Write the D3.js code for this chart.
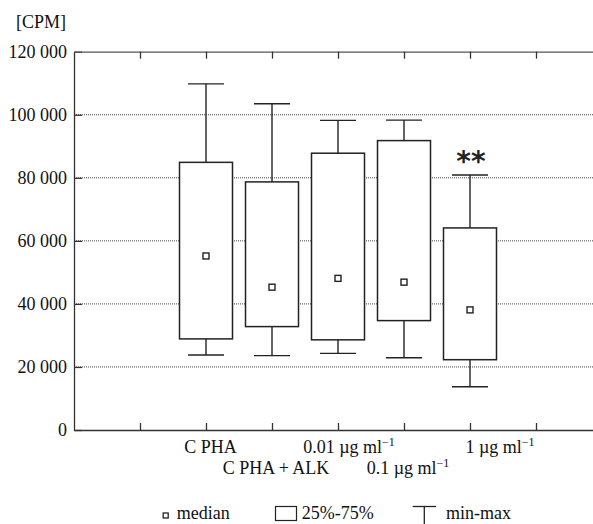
<!DOCTYPE html>
<html>
<head>
<meta charset="utf-8">
<script src="https://cdn.jsdelivr.net/npm/d3@7"></script>
<style>
  body { margin: 0; background: #fff; }
  svg { display: block; font-family: "Liberation Serif", "Times New Roman", serif; }
</style>
</head>
<body>
<svg width="593" height="524"></svg>
<script>
// groups, in order along the x axis
const labels = ["C PHA", "C PHA + ALK", "0.01 \u00b5g ml", "0.1 \u00b5g ml", "1 \u00b5g ml"];
const labelSup = ["", "", "\u22121", "\u22121", "\u22121"];

// box plot values [CPM]
const mins    = [23800, 23600, 24300, 22900, 13700];
const q1      = [28900, 32800, 28600, 34700, 22300];
const medians = [55200, 45300, 48100, 46900, 38100];
const q3      = [84900, 78700, 87800, 91800, 64100];
const maxs    = [109800, 103500, 98200, 98300, 80900];

const yTicks = [0, 20000, 40000, 60000, 80000, 100000, 120000];
const gridTicks = [20000, 40000, 60000, 80000, 100000];
const xTickSlots = [1, 2, 3, 4, 5, 6, 7];

const svg = d3.select("svg");
const plotL = 74, plotR = 602, plotT = 51.7, plotB = 430;

// slot 0 is the y axis, boxes sit in slots 2..6
const x = d3.scaleLinear().domain([0, 8]).range([plotL, plotR]);
const y = d3.scaleLinear().domain([0, 120000]).range([plotB, plotT]);
const slot = i => x(i + 2);

const ink = "#222";
const fmt = d => d3.format(",")(d).replace(/,/g, " ");

// dotted grid
svg.append("g").selectAll("line")
  .data(gridTicks)
  .join("line")
    .attr("x1", plotL).attr("x2", plotR)
    .attr("y1", d => y(d)).attr("y2", d => y(d))
    .attr("stroke", "#444")
    .attr("stroke-width", 1)
    .attr("stroke-dasharray", "1,1");

// axes, ticks pointing inwards
const yAxis = svg.append("g")
  .attr("transform", `translate(${plotL},0)`)
  .call(d3.axisLeft(y).tickValues(yTicks).tickFormat(fmt)
    .tickSizeInner(-8).tickSizeOuter(0).tickPadding(7));

const bAxis = svg.append("g")
  .attr("transform", `translate(0,${plotB})`)
  .call(d3.axisBottom(x).tickValues(xTickSlots).tickFormat("")
    .tickSizeInner(-7).tickSizeOuter(0));

const tAxis = svg.append("g")
  .attr("transform", `translate(0,${plotT})`)
  .call(d3.axisTop(x).tickValues(xTickSlots).tickFormat("")
    .tickSizeInner(-7).tickSizeOuter(0));

[yAxis, bAxis, tAxis].forEach(a => {
  a.selectAll("path, line").attr("stroke", "#333").attr("stroke-width", 1.3);
  a.selectAll("text")
    .attr("fill", "#111")
    .style("font-family", "Liberation Serif, serif")
    .style("font-size", "18px");
});
tAxis.select(".domain").attr("stroke", "#555");

// boxes
const boxW = 53, capW = 36;
const groups = svg.append("g").selectAll("g")
  .data(labels.map((l, i) => i))
  .join("g");

// whiskers
groups.append("line")
  .attr("x1", slot).attr("x2", slot)
  .attr("y1", i => y(maxs[i])).attr("y2", i => y(mins[i]))
  .attr("stroke", ink).attr("stroke-width", 1.4);
groups.append("line")
  .attr("x1", i => slot(i) - capW / 2).attr("x2", i => slot(i) + capW / 2)
  .attr("y1", i => y(maxs[i])).attr("y2", i => y(maxs[i]))
  .attr("stroke", ink).attr("stroke-width", 1.4);
groups.append("line")
  .attr("x1", i => slot(i) - capW / 2).attr("x2", i => slot(i) + capW / 2)
  .attr("y1", i => y(mins[i])).attr("y2", i => y(mins[i]))
  .attr("stroke", ink).attr("stroke-width", 1.4);

groups.append("rect")
  .attr("x", i => slot(i) - boxW / 2)
  .attr("width", boxW)
  .attr("y", i => y(q3[i]))
  .attr("height", i => y(q1[i]) - y(q3[i]))
  .attr("fill", "#fff")
  .attr("stroke", ink).attr("stroke-width", 1.5);

groups.append("rect")
  .attr("x", i => slot(i) - 3)
  .attr("y", i => y(medians[i]) - 3)
  .attr("width", 6).attr("height", 6)
  .attr("fill", "#fff")
  .attr("stroke", ink).attr("stroke-width", 1.4);

// significance mark over the last group
svg.append("text")
  .attr("x", slot(4) + 1)
  .attr("y", 171)
  .attr("text-anchor", "middle")
  .style("font-family", "DejaVu Sans, sans-serif")
  .style("font-size", "28px")
  .style("font-weight", "bold")
  .attr("fill", ink)
  .text("**");

// y unit
svg.append("text")
  .attr("x", 16).attr("y", 27.5)
  .style("font-size", "18px")
  .attr("fill", "#111")
  .text("[CPM]");

// category labels on two staggered rows
const nudge = [4.5, 4, 11, 4, 30];
const lab = svg.append("g").selectAll("text")
  .data(labels.map((l, i) => i))
  .join("text")
    .attr("x", i => slot(i) + nudge[i])
    .attr("y", i => i % 2 === 0 ? 453.3 : 474.3)
    .attr("text-anchor", "middle")
    .style("font-size", "18px")
    .attr("fill", "#111");
lab.append("tspan").text(i => labels[i]);
lab.append("tspan")
  .attr("dy", -7)
  .style("font-size", "12px")
  .text(i => labelSup[i]);

// legend
const legY = 519;
const leg = svg.append("g");
leg.append("rect")
  .attr("x", 163.2).attr("y", legY - 6).attr("width", 5).attr("height", 5)
  .attr("fill", "#fff").attr("stroke", ink).attr("stroke-width", 1.3);
leg.append("text").attr("x", 176.7).attr("y", legY)
  .style("font-size", "18px").attr("fill", "#111").text("median");

leg.append("rect")
  .attr("x", 275.5).attr("y", legY - 12.5).attr("width", 21).attr("height", 14)
  .attr("fill", "#fff").attr("stroke", ink).attr("stroke-width", 1.2);
leg.append("text").attr("x", 301.7).attr("y", legY)
  .style("font-size", "18px").attr("fill", "#111").text("25%-75%");

leg.append("line")
  .attr("x1", 412.7).attr("x2", 436).attr("y1", legY - 12.5).attr("y2", legY - 12.5)
  .attr("stroke", ink).attr("stroke-width", 1.3);
leg.append("line")
  .attr("x1", 424.3).attr("x2", 424.3).attr("y1", legY - 12.5).attr("y2", 524)
  .attr("stroke", ink).attr("stroke-width", 1.3);
leg.append("text").attr("x", 446).attr("y", legY)
  .style("font-size", "18px").attr("fill", "#111").text("min-max");
</script>
</body>
</html>
